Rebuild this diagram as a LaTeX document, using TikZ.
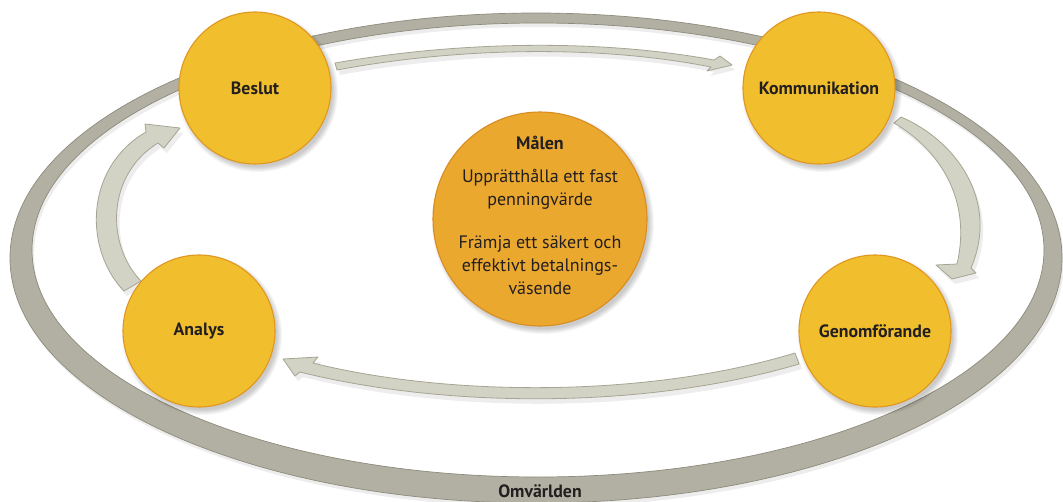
\documentclass[tikz,border=0pt]{standalone}
\usepackage{fontspec}
\setmainfont{PT Sans}
\definecolor{ringfill}{HTML}{B2B0A2}
\definecolor{ringedge}{HTML}{8D8B7B}
\definecolor{arrfill}{HTML}{D3D3C5}
\definecolor{arredge}{HTML}{A6A593}
\definecolor{yfill}{HTML}{F1BF2E}
\definecolor{yedge}{HTML}{E0961F}
\definecolor{ofill}{HTML}{EAA82F}
\definecolor{oedge}{HTML}{D98C20}
\definecolor{txt}{HTML}{231F20}
\tikzset{
  ycirc/.style={circle, minimum size=152pt, inner sep=0pt, fill=yfill, draw=yedge, line width=1.1pt,
    font=\bfseries\fontsize{17.8}{20}\selectfont, text=txt},
  mcirc/.style={circle, minimum size=214pt, inner sep=0pt, fill=ofill, draw=oedge, line width=1.1pt},
  mtext/.style={align=center, inner sep=0pt, text=txt, font=\fontsize{18}{23}\selectfont},
  lbl/.style={inner sep=0pt, text=txt, font=\bfseries\fontsize{17.8}{20}\selectfont},
  blockarrow/.style={fill=arrfill, draw=arredge, line width=0.8pt, line join=round},
  shade/.style={fill=black, opacity=0.07},
}
\newcommand\softshadow[3]{%
  \foreach \k in {0,...,5}{\fill[black, opacity=0.035] (#1+3,#2+4) circle [radius=#3+4-\k];}}
\def\pathTop{(335,63) .. controls (460,41) and (600,39) .. (714,60) -- (720,56) -- (732,65) -- (707,71) -- (711,67)
  .. controls (600,45) and (460,47) .. (337,70) -- cycle}
\def\pathRight{(894,123) -- (901,117) .. controls (955,140) and (1000,200) .. (971,268) -- (976,273) -- (952,279)
  -- (936,265) -- (957,264) .. controls (972,200) and (940,150) .. (894,123) -- cycle}
\def\pathBottom{(795,353) .. controls (640,400) and (440,395) .. (313,363) -- (318,357) -- (283,359) -- (295,376)
  -- (300,372) .. controls (440,407) and (640,411) .. (799,364) -- cycle}
\def\pathLeft{(124,291) .. controls (84,250) and (84,168) .. (146,132) -- (145,124) -- (180,128) -- (164,148)
  -- (158,143) .. controls (106,175) and (106,245) .. (141,281) -- cycle}
\begin{document}
\begin{tikzpicture}[x=1pt, y=-1pt]
\useasboundingbox (0,0) rectangle (1063,501);
\fill[white] (0,0) rectangle (1063,501);
% outer ring (Omvärlden)
\begin{scope}[shift={(2,4)}]
  \fill[shade, even odd rule] (536,258) ellipse [x radius=526, y radius=245] (538,250) ellipse [x radius=506, y radius=227];
\end{scope}
\fill[ringfill, even odd rule] (536,258) ellipse [x radius=526, y radius=245] (538,250) ellipse [x radius=506, y radius=227];
\draw[ringedge, line width=0.7pt] (536,258) ellipse [x radius=526, y radius=245];
\draw[ringedge, line width=0.7pt] (538,250) ellipse [x radius=506, y radius=227];
\node[lbl] (omv) at (540,491) {Omvärlden};
% arrow shadows
\begin{scope}[shift={(3,5)}]
  \fill[shade] \pathTop; \fill[shade] \pathRight; \fill[shade] \pathBottom; \fill[shade] \pathLeft;
\end{scope}
% block arrows
\draw[blockarrow] \pathTop;
\draw[blockarrow] \pathRight;
\draw[blockarrow] \pathBottom;
\draw[blockarrow] \pathLeft;
% circle shadows
\softshadow{255}{88}{76}
\softshadow{819}{88}{76}
\softshadow{199}{331}{76}
\softshadow{875}{331}{76}
\softshadow{540}{219}{107}
% circles
\node[ycirc] (beslut) at (255,88) {Beslut};
\node[ycirc] (komm) at (819,88) {Kommunikation};
\node[ycirc] (analys) at (199,331) {Analys};
\node[ycirc] (genom) at (875,331) {Genomförande};
\node[mcirc] (malen) at (540,219) {};
\node[mtext] (malentext) at (540,215) {{\bfseries Målen}\\[10pt]Upprätthålla ett fast\\penningvärde\\[20pt]Främja ett säkert och\\effektivt betalnings-\\väsende};
\end{tikzpicture}
\end{document}
